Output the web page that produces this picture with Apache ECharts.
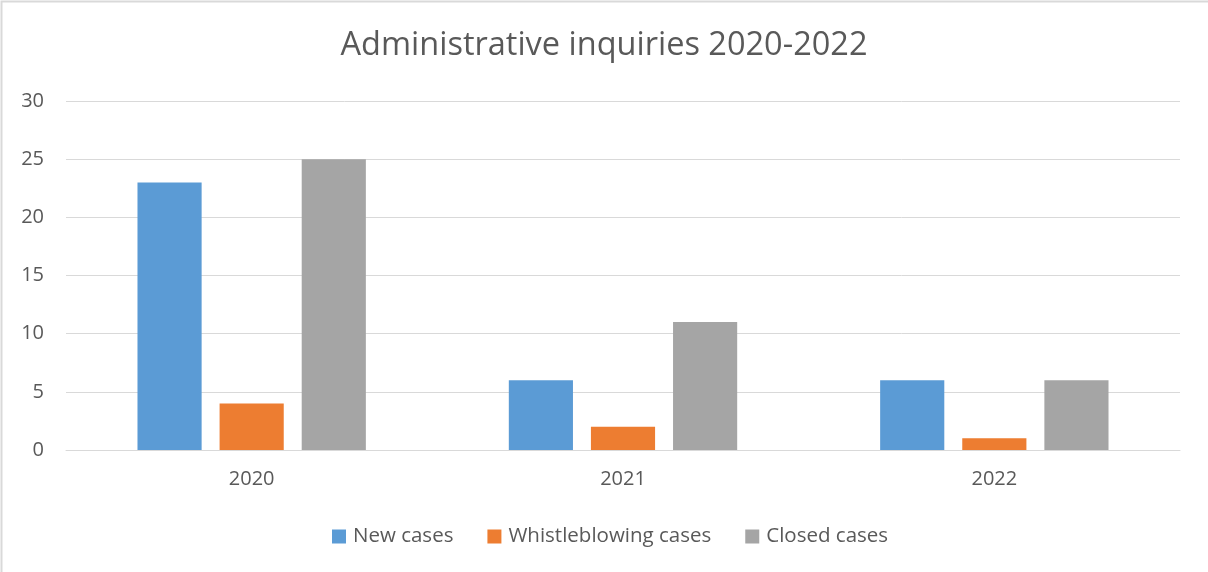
<!DOCTYPE html>
<html><head><meta charset="utf-8">
<script src="https://cdn.jsdelivr.net/npm/echarts@6/dist/echarts.min.js"></script>
<style>html,body{margin:0;padding:0;background:#fff}#c{width:1208px;height:572px}</style>
</head><body><div id="c"></div>
<script>
const categories = ['2020', '2021', '2022'];
const newCases = [23, 6, 6];
const whistleblowingCases = [4, 2, 1];
const closedCases = [25, 11, 6];
const seriesNames = ['New cases', 'Whistleblowing cases', 'Closed cases'];
const font = '"Open Sans", Lato, sans-serif';
const chart = echarts.init(document.getElementById('c'));
chart.setOption({
  animation: false,
  backgroundColor: '#fff',
  graphic: [{type:'rect', shape:{x:1.5,y:1.5,width:1210,height:580}, style:{fill:'none', stroke:'#d9d9d9', lineWidth:2}, silent:true}],
  title: {text: 'Administrative inquiries 2020-2022', left: 'center', top: 24,
    textStyle: {fontFamily: font, fontSize: 32.5, fontWeight: 'normal', color: '#595959'}},
  legend: {bottom: 20, left: 327, itemWidth: 14, itemHeight: 14, itemGap: 34, icon: 'rect',
    data: seriesNames,
    textStyle: {fontFamily: font, fontSize: 20.5, color: '#595959', padding: [0, 0, 0, 2]}},
  grid: {left: 66, right: 28, top: 101, bottom: 122},
  xAxis: {type: 'category', data: categories,
    axisLine: {lineStyle: {color: '#d9d9d9', width: 1}}, axisTick: {show: false},
    axisLabel: {fontFamily: font, fontSize: 20, color: '#595959', margin: 19}},
  yAxis: {type: 'value', min: 0, max: 30, interval: 5,
    axisLine: {show: false}, axisTick: {show: false},
    splitLine: {lineStyle: {color: '#d9d9d9', width: 1}},
    axisLabel: {fontFamily: font, fontSize: 20, color: '#595959', margin: 22}},
  series: [
    {name: seriesNames[0], type: 'bar', data: newCases, itemStyle: {color: '#5B9BD5'}, barGap: '28%', barCategoryGap: '38.5%'},
    {name: seriesNames[1], type: 'bar', data: whistleblowingCases, itemStyle: {color: '#ED7D31'}},
    {name: seriesNames[2], type: 'bar', data: closedCases, itemStyle: {color: '#A5A5A5'}}
  ]
});
</script></body></html>
